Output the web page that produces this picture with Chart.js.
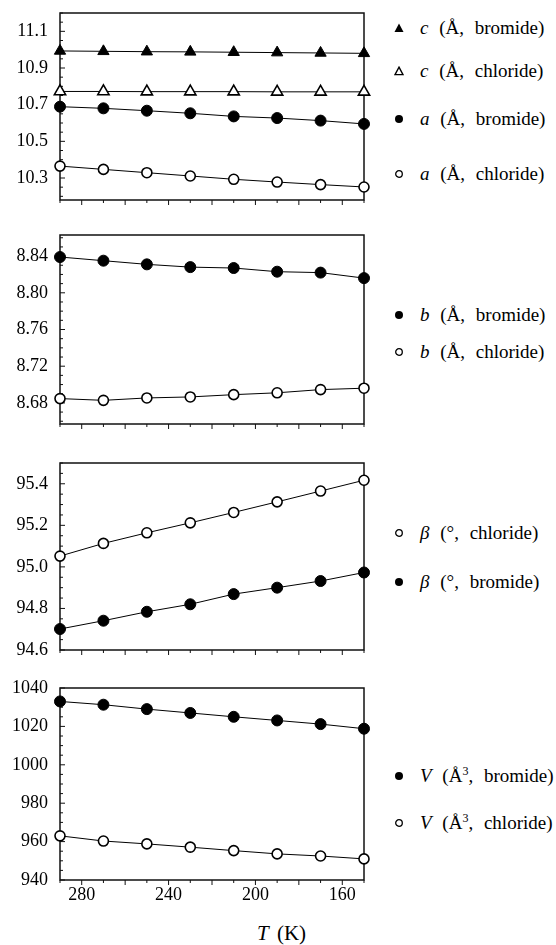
<!DOCTYPE html>
<html lang="en">
<head>
<meta charset="UTF-8">
<title>Cell parameters vs temperature</title>
<script src="https://cdn.jsdelivr.net/npm/chart.js"></script>
<style>
  body { margin: 0; background: #fff; font-family: "Liberation Serif", "Times New Roman", serif; color: #000; }
  #page { position: relative; width: 556px; height: 945px; overflow: hidden; }
  canvas { position: absolute; left: 0; }
  .leg { position: absolute; left: 394px; height: 20px; width: 162px; }
  .leg svg { position: absolute; left: 0; top: 5px; }
  .leg span { position: absolute; left: 26px; top: 0; line-height: 20px; font-size: 19px; white-space: nowrap; word-spacing: 6px; }
  .leg sup { font-size: 12px; line-height: 0; }
  #xtitle { position: absolute; left: 257px; top: 921px; font-size: 21px; white-space: nowrap; word-spacing: 3px; }
</style>
</head>
<body>
<div id="page">
  <canvas id="p1" width="380" height="211" style="top:1px"></canvas>
  <canvas id="p2" width="380" height="213" style="top:223px"></canvas>
  <canvas id="p3" width="380" height="211" style="top:451px"></canvas>
  <canvas id="p4" width="380" height="240" style="top:676px"></canvas>

  <!-- legends -->
  <div class="leg" style="top:18px"><svg width="10" height="10"><polygon points="5,0.5 9.5,9 0.5,9" fill="#000"/></svg><span><i>c</i> (Å, bromide)</span></div>
  <div class="leg" style="top:61px"><svg width="10" height="10"><polygon points="5,1.2 9,8.6 1,8.6" fill="none" stroke="#000" stroke-width="1.4"/></svg><span><i>c</i> (Å, chloride)</span></div>
  <div class="leg" style="top:109px"><svg width="10" height="10"><circle cx="5" cy="5" r="4" fill="#000"/></svg><span><i>a</i> (Å, bromide)</span></div>
  <div class="leg" style="top:164px"><svg width="10" height="10"><circle cx="5" cy="5" r="3.3" fill="none" stroke="#000" stroke-width="1.3"/></svg><span><i>a</i> (Å, chloride)</span></div>

  <div class="leg" style="top:305px"><svg width="10" height="10"><circle cx="5" cy="5" r="4" fill="#000"/></svg><span><i>b</i> (Å, bromide)</span></div>
  <div class="leg" style="top:342px"><svg width="10" height="10"><circle cx="5" cy="5" r="3.3" fill="none" stroke="#000" stroke-width="1.3"/></svg><span><i>b</i> (Å, chloride)</span></div>

  <div class="leg" style="top:523px"><svg width="10" height="10"><circle cx="5" cy="5" r="3.3" fill="none" stroke="#000" stroke-width="1.3"/></svg><span><i>β</i> (°, chloride)</span></div>
  <div class="leg" style="top:572px"><svg width="10" height="10"><circle cx="5" cy="5" r="4" fill="#000"/></svg><span><i>β</i> (°, bromide)</span></div>

  <div class="leg" style="top:766px"><svg width="10" height="10"><circle cx="5" cy="5" r="4" fill="#000"/></svg><span><i>V</i> (Å<sup>3</sup>, bromide)</span></div>
  <div class="leg" style="top:813px"><svg width="10" height="10"><circle cx="5" cy="5" r="3.3" fill="none" stroke="#000" stroke-width="1.3"/></svg><span><i>V</i> (Å<sup>3</sup>, chloride)</span></div>

  <div id="xtitle"><i>T</i> (K)</div>
</div>

<script>
    // temperatures (K) of the measurements
    var temps = [290, 270, 250, 230, 210, 190, 170, 150];

    // panel 1: c and a (Å)
    var cBromide  = [10.993, 10.991, 10.989, 10.988, 10.986, 10.984, 10.982, 10.980];
    var cChloride = [10.772, 10.772, 10.771, 10.771, 10.771, 10.770, 10.770, 10.770];
    var aBromide  = [10.689, 10.680, 10.667, 10.653, 10.636, 10.627, 10.613, 10.595];
    var aChloride = [10.365, 10.347, 10.329, 10.311, 10.293, 10.278, 10.264, 10.251];

    // panel 2: b (Å)
    var bBromide  = [8.839, 8.835, 8.831, 8.828, 8.827, 8.823, 8.822, 8.816];
    var bChloride = [8.6847, 8.6828, 8.6854, 8.6865, 8.6890, 8.6910, 8.6945, 8.6960];

    // panel 3: beta (deg)
    var betaChloride = [95.052, 95.113, 95.164, 95.212, 95.262, 95.313, 95.365, 95.417];
    var betaBromide  = [94.701, 94.741, 94.784, 94.820, 94.869, 94.900, 94.932, 94.973];

    // panel 4: V (Å^3)
    var vBromide  = [1033.0, 1031.3, 1029.0, 1027.0, 1025.0, 1023.1, 1021.2, 1018.8];
    var vChloride = [963.0, 960.3, 958.8, 957.1, 955.3, 953.6, 952.5, 951.0];

    // tick labels
    var xTicks  = [280, 240, 200, 160];
    var yTicks1 = [10.3, 10.5, 10.7, 10.9, 11.1];
    var yTicks2 = [8.68, 8.72, 8.76, 8.80, 8.84];
    var yTicks3 = [94.6, 94.8, 95.0, 95.2, 95.4];
    var yTicks4 = [940, 960, 980, 1000, 1020, 1040];

    var tickFont = { family: "'Liberation Serif', 'Times New Roman', serif", size: 18 };

    // frame around the plot + small tick marks
    var frameTicks = {
        id: 'frameTicks',
        beforeDatasetsDraw: function (chart, args, opts) {
            var ctx = chart.ctx, a = chart.chartArea;
            var xs = chart.scales.x, ys = chart.scales.y;
            ctx.save();
            ctx.strokeStyle = '#111';
            ctx.lineWidth = 1.5;
            ctx.strokeRect(a.left, a.top, a.right - a.left, a.bottom - a.top);
            ctx.lineWidth = 1;
            ctx.beginPath();
            var s = opts.yMinor;
            for (var k = Math.ceil(ys.min / s - 1e-6); k * s <= ys.max + 1e-9; k++) {
                var v = k * s;
                var py = ys.getPixelForValue(v);
                var major = opts.yMajor.some(function (m) { return Math.abs(m - v) < s / 10; });
                ctx.moveTo(a.left, py);
                ctx.lineTo(a.left + (major ? 5 : 3), py);
            }
            for (var t = 150; t <= 290; t += 10) {
                var px = xs.getPixelForValue(t);
                ctx.moveTo(px, a.bottom);
                ctx.lineTo(px, a.bottom + (t % 20 === 0 ? 5 : 3));
            }
            ctx.stroke();
            ctx.restore();
        }
    };

    function noPad(s) {
        s.paddingTop = 0;
        s.paddingBottom = 0;
        s.paddingLeft = 0;
        s.paddingRight = 0;
    }

    function series(label, values, shape, filled, r) {
        return {
            label: label,
            data: temps.map(function (t, i) { return { x: t, y: values[i] }; }),
            showLine: true,
            borderColor: '#000',
            borderWidth: 1,
            pointStyle: shape,
            pointRadius: r,
            pointBackgroundColor: filled ? '#000' : '#fff',
            pointBorderColor: '#000',
            pointBorderWidth: filled ? 1 : 1.6,
            tension: 0,
            clip: false
        };
    }

    function makePanel(id, datasets, yMin, yMax, yTicks, yMinor, dec, showX, padBottom) {
        new Chart(document.getElementById(id), {
            type: 'scatter',
            data: { datasets: datasets },
            plugins: [frameTicks],
            options: {
                responsive: false,
                animation: false,
                devicePixelRatio: 1,
                layout: { padding: { top: 12, right: 16, left: 0, bottom: 0 } },
                plugins: {
                    legend: { display: false },
                    tooltip: { enabled: false },
                    frameTicks: { yMinor: yMinor, yMajor: yTicks }
                },
                scales: {
                    x: {
                        type: 'linear',
                        reverse: true,
                        min: 150,
                        max: 290,
                        afterBuildTicks: function (s) { s.ticks = xTicks.map(function (v) { return { value: v }; }); },
                        afterFit: function (s) { s.height = padBottom; noPad(s); },
                        grid: { display: false, drawTicks: false },
                        border: { display: false },
                        ticks: { display: showX, color: '#000', font: tickFont, padding: 4, maxRotation: 0 }
                    },
                    y: {
                        type: 'linear',
                        min: yMin,
                        max: yMax,
                        afterBuildTicks: function (s) { s.ticks = yTicks.map(function (v) { return { value: v }; }); },
                        afterFit: function (s) { s.width = 60; noPad(s); },
                        grid: { display: false, drawTicks: false },
                        border: { display: false },
                        ticks: {
                            color: '#000',
                            font: tickFont,
                            padding: 12,
                            callback: function (v) { return Number(v).toFixed(dec); }
                        }
                    }
                }
            }
        });
    }

    makePanel('p1', [
        series('c (Å, bromide)', cBromide, 'triangle', true, 6.5),
        series('c (Å, chloride)', cChloride, 'triangle', false, 6.5),
        series('a (Å, bromide)', aBromide, 'circle', true, 5.5),
        series('a (Å, chloride)', aChloride, 'circle', false, 5)
    ], 10.18, 11.2, yTicks1, 0.05, 1, false, 12);

    makePanel('p2', [
        series('b (Å, bromide)', bBromide, 'circle', true, 5.5),
        series('b (Å, chloride)', bChloride, 'circle', false, 5)
    ], 8.657, 8.863, yTicks2, 0.01, 2, false, 12);

    makePanel('p3', [
        series('β (°, chloride)', betaChloride, 'circle', false, 5),
        series('β (°, bromide)', betaBromide, 'circle', true, 5.5)
    ], 94.6, 95.5, yTicks3, 0.05, 1, false, 12);

    makePanel('p4', [
        series('V (Å3, bromide)', vBromide, 'circle', true, 5.5),
        series('V (Å3, chloride)', vChloride, 'circle', false, 5)
    ], 940, 1040, yTicks4, 5, 0, true, 36);
</script>
</body>
</html>
